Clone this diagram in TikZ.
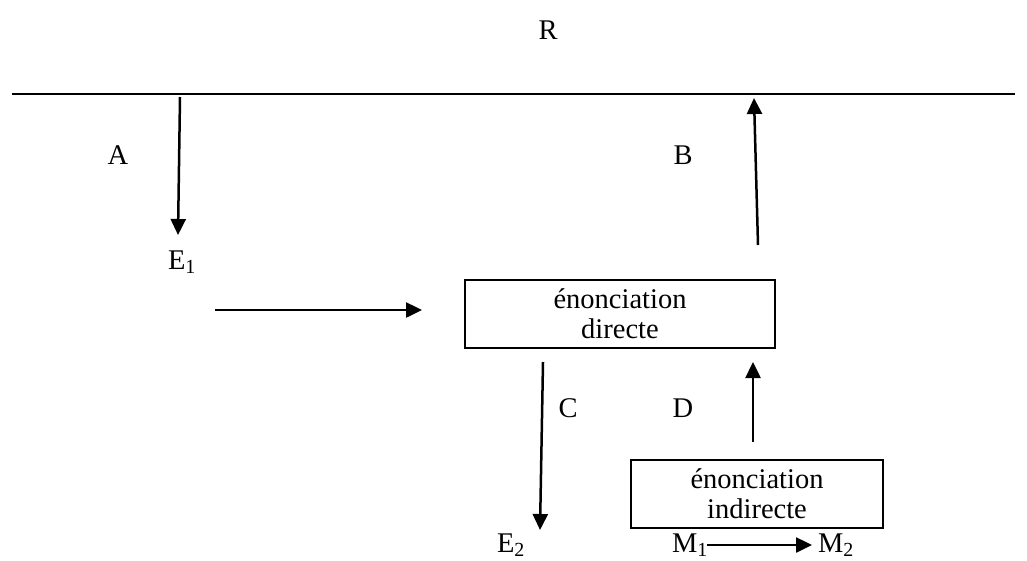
\documentclass[tikz,border=0pt]{standalone}
\usepackage{fontspec}
\setmainfont{Liberation Serif}
\usetikzlibrary{positioning,arrows.meta}

\begin{document}
\begin{tikzpicture}[x=1pt,y=-1pt,
  every node/.style={font=\fontsize{28.5}{30}\selectfont},
  flow/.style={line width=2.5pt,-{Triangle[length=16pt,width=15pt]}},
  frame/.style={draw,line width=2pt,minimum height=68pt,align=center,inner sep=0pt}]
\useasboundingbox (0,0) rectangle (1027,560);

\def\yr{94}
\def\ym{545}
\def\yb{552}

% the line of reality
\coordinate(l) at (12,\yr);
\coordinate(r) at (1015,\yr);
\draw[line width=1.8pt] (l) -- (r);
\node(R) at (548,30) {R};

% boxes
\node[frame,minimum width=310pt](dir) at (620,314) {énonciation\\directe};
\node[frame,minimum width=252pt](ind) at (757,494) {énonciation\\indirecte};

% end points of the arrows
\coordinate(a1) at (180,97);
\coordinate(a2) at (178,235);
\coordinate(b1) at (758,245);
\coordinate(b2) at (754,98);
\coordinate(c1) at (543,362);
\coordinate(c2) at (540,530);
\coordinate(d1) at (753,442);
\coordinate(d2) at (753,362);
\coordinate(h1) at (215,310);
\coordinate(h2) at (422,310);
\coordinate(m1) at (707,\ym);
\coordinate(m2) at (812,\ym);

\draw[flow] (a1) -- (a2);
\draw[flow] (b1) -- (b2);
\draw[flow] (c1) -- (c2);
\draw[flow] (d1) -- (d2);
\draw[flow] (h1) -- (h2);
\draw[flow] (m1) -- (m2);

% labels
\node(A) at (118,155) {A};
\node(B) at (683,155) {B};
\node(C) at (568,408) {C};
\node(D) at (683,408) {D};
\node(E1) at (182,262) {E\textsubscript{1}};
\node[anchor=base](E2) at (511,\yb) {E\textsubscript{2}};
\node[anchor=base](M1) at (690,\yb) {M\textsubscript{1}};
\node[anchor=base](M2) at (836,\yb) {M\textsubscript{2}};
\end{tikzpicture}
\end{document}
